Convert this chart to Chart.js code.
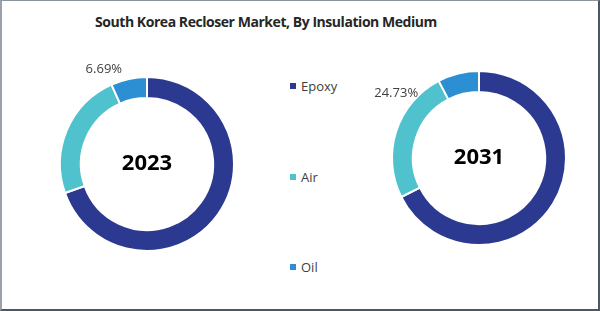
<!DOCTYPE html>
<html>
<head>
<meta charset="utf-8">
<script src="https://cdn.jsdelivr.net/npm/chart.js@4"></script>
<style>
  html, body { margin: 0; padding: 0; background: #fff; }
  #frame {
    position: relative; width: 600px; height: 311px; box-sizing: border-box;
    border-top: 1px solid #8c949c; border-left: 2px solid #9aa1a8;
    border-right: 2px solid #4d5761; border-bottom: 2px solid #4d5761;
    font-family: "Open Sans", "Noto Sans", sans-serif; color: #404040; overflow: hidden;
  }
  #title {
    position: absolute; left: 0; top: 11px; width: 528px; text-align: center;
    font-weight: bold; font-size: 14px; color: #262626; letter-spacing: -0.45px;
  }
  .wrap { position: absolute; width: 260px; height: 200px; }
  #legend { position: absolute; left: 288px; top: 0; font-size: 13px; }
  .item { position: absolute; white-space: nowrap; line-height: 16px; }
  .item i { display: inline-block; width: 6px; height: 6px; margin-right: 5px; vertical-align: 2px; }
</style>
</head>
<body>
<div id="frame">
  <div id="title">South Korea Recloser Market, By Insulation Medium</div>
  <div class="wrap" style="left:15px;top:63px"><canvas id="c2023"></canvas></div>
  <div class="wrap" style="left:347px;top:57px"><canvas id="c2031"></canvas></div>
  <div id="legend"></div>
</div>
<script>
// categories and colours
const segments = ['Epoxy', 'Air', 'Oil'];
const colors = ['#2b3990', '#4fc2cd', '#2c8fd3'];

// shares (%) per year
const share2023 = [69.60, 23.71, 6.69];
const share2031 = [67.60, 24.73, 7.67];

// which slice gets a value label, and where it sits relative to the slice's outer edge
const label2023 = { index: 2, dx: -25, dy: -10 };
const label2031 = { index: 1, dx: 0, dy: -38 };

const legendTops = [77, 168, 258];

const centerAndLabel = {
  id: 'centerAndLabel',
  afterDraw(chart) {
    const ctx = chart.ctx;
    const arc = chart.getDatasetMeta(0).data[0];
    ctx.save();
    ctx.fillStyle = '#000';
    ctx.font = 'bold 22px "Open Sans", sans-serif';
    ctx.textAlign = 'center';
    ctx.textBaseline = 'middle';
    ctx.fillText(chart.options.plugins.centerAndLabel.year, arc.x, arc.y);

    const lab = chart.options.plugins.centerAndLabel.label;
    const a = chart.getDatasetMeta(0).data[lab.index];
    const mid = (a.startAngle + a.endAngle) / 2;
    const px = a.x + Math.cos(mid) * a.outerRadius + lab.dx;
    const py = a.y + Math.sin(mid) * a.outerRadius + lab.dy;
    ctx.fillStyle = '#404040';
    ctx.font = '13px "Open Sans", sans-serif';
    const v = chart.data.datasets[0].data[lab.index];
    ctx.fillText(v.toFixed(2) + '%', px, py);
    ctx.restore();
  }
};

function makeDonut(id, year, data, label) {
  new Chart(document.getElementById(id), {
    type: 'doughnut',
    data: {
      labels: segments,
      datasets: [{
        data: data,
        backgroundColor: colors,
        borderColor: '#ffffff',
        borderWidth: 2
      }]
    },
    options: {
      responsive: false,
      animation: false,
      cutout: '76%',
      layout: { padding: { left: 42, right: 42, top: 12, bottom: 12 } },
      plugins: {
        legend: { display: false },
        tooltip: { enabled: false },
        centerAndLabel: { year: year, label: label }
      }
    },
    plugins: [centerAndLabel]
  });
}

document.querySelectorAll('canvas').forEach(c => { c.width = 260; c.height = 200; });
makeDonut('c2023', '2023', share2023, label2023);
makeDonut('c2031', '2031', share2031, label2031);

// legend
const legendEl = document.getElementById('legend');
segments.forEach((name, i) => {
  const d = document.createElement('div');
  d.className = 'item';
  d.style.top = legendTops[i] + 'px';
  d.innerHTML = '<i style="background:' + colors[i] + '"></i>' + name;
  legendEl.appendChild(d);
});
</script>
</body>
</html>
